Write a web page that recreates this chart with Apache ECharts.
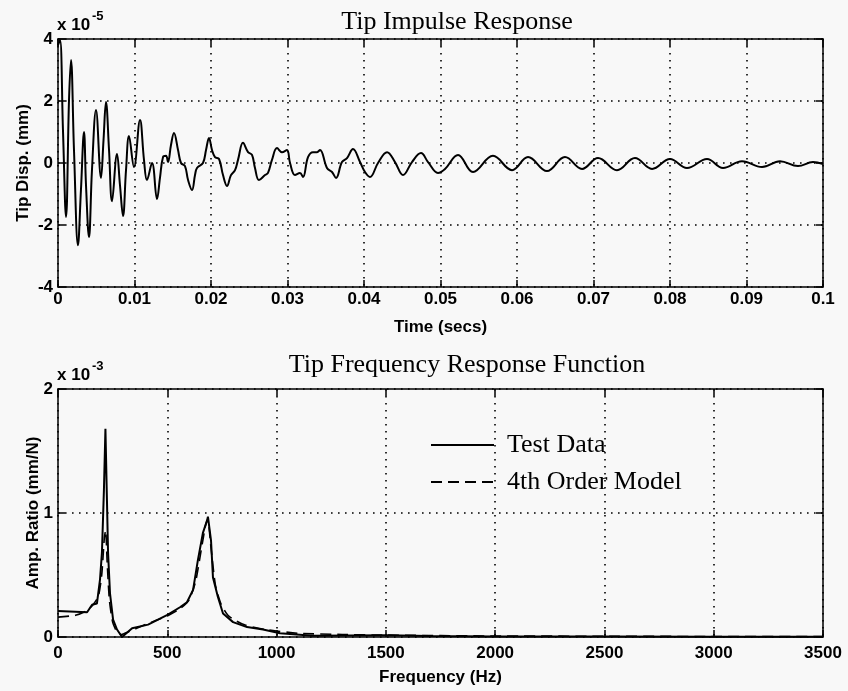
<!DOCTYPE html>
<html>
<head>
<meta charset="utf-8">
<script src="https://cdn.jsdelivr.net/npm/echarts@6/dist/echarts.min.js"></script>
<style>
  html, body { margin: 0; padding: 0; background: #f8f8f8; }
  #chart { width: 848px; height: 691px; }
</style>
</head>
<body>
<div id="chart"></div>
<script>
// impulse response, time in s, displacement in 1e-5 mm
var impTime = [0, 0.00026, 0.00065, 0.00105, 0.00144, 0.0017, 0.00209, 0.00261, 0.003, 0.0034,
  0.00366, 0.00405, 0.00444, 0.00497, 0.00562, 0.00595, 0.00627, 0.00667, 0.00706, 0.00771,
  0.0081, 0.0085, 0.00889, 0.00928, 0.00993, 0.01072, 0.01124, 0.01163, 0.01229, 0.01294,
  0.01333, 0.01373, 0.01412, 0.01438, 0.01477, 0.01516, 0.01569, 0.01608, 0.0166, 0.017,
  0.01752, 0.01791, 0.01817, 0.01895, 0.01935, 0.01974, 0.02013, 0.02052, 0.02105, 0.02157,
  0.02209, 0.02261, 0.02314, 0.02353, 0.02418, 0.02484, 0.02536, 0.02575, 0.02627, 0.02706,
  0.02745, 0.02797, 0.02863, 0.02928, 0.02993, 0.03033, 0.03098, 0.03163, 0.03203, 0.03268,
  0.03333, 0.03386, 0.03425, 0.03516, 0.03582, 0.03634, 0.03712, 0.03778, 0.03856, 0.03948,
  0.04013, 0.04078, 0.04183, 0.04301, 0.04405, 0.0451, 0.04627, 0.04745, 0.04837, 0.04967,
  0.05059, 0.05229, 0.05425, 0.05686, 0.05935, 0.06144, 0.06392, 0.06627, 0.0685, 0.07059,
  0.07307, 0.07542, 0.07765, 0.08, 0.08222, 0.08484, 0.08693, 0.08941, 0.09203, 0.09438,
  0.09673, 0.09869, 0.1];
var impDisp = [3.8, 3.97, 1.06, -1.74, 2.03, 3.32, 0.42, -2.65, -0.87, 1.0,
  -0.71, -2.39, -0.23, 1.71, -0.48, 0.74, 1.97, 0.42, -1.23, 0.29,
  -0.71, -1.71, -0.23, 0.87, -0.13, 1.39, 0.1, -0.55, 0.0, -1.16,
  -0.48, 0.19, 0.23, 0.03, 0.58, 0.97, 0.42, 0.0, -0.1, -0.55,
  -0.87, -0.39, -0.16, 0.0, 0.42, 0.81, 0.42, 0.19, 0.13, -0.39,
  -0.74, -0.39, -0.23, 0.1, 0.65, 0.35, 0.26, -0.16, -0.55, -0.39,
  -0.32, 0.1, 0.48, 0.35, 0.42, 0.0, -0.39, -0.32, -0.45, 0.19,
  0.35, 0.35, 0.42, -0.16, -0.29, -0.48, 0.03, 0.16, 0.45, 0.03,
  -0.29, -0.45, 0.0, 0.35, 0.03, -0.39, 0.03, 0.32, 0.03, -0.32,
  -0.19, 0.26, -0.29, 0.23, -0.23, 0.19, -0.26, 0.19, -0.19, 0.16,
  -0.23, 0.16, -0.19, 0.13, -0.16, 0.13, -0.16, 0.06, -0.13, 0.06,
  -0.1, 0.03, -0.03];

// frequency response, Hz and 1e-3 mm/N
var testFreq = [0, 133, 156, 178, 192, 201, 210, 217, 224, 229, 238, 252, 270, 293, 339, 412,
  503, 558, 590, 618, 640, 663, 682, 686, 700, 709, 732, 755, 801, 865, 938, 1016, 1166,
  1500, 1700, 2000, 2500, 3000, 3500];
var testAmp = [0.21, 0.2, 0.26, 0.27, 0.46, 0.68, 1.18, 1.68, 1.1, 0.68, 0.35, 0.14, 0.06, 0.0, 0.07, 0.1,
  0.18, 0.24, 0.28, 0.38, 0.62, 0.84, 0.94, 0.97, 0.78, 0.48, 0.32, 0.19, 0.12, 0.08, 0.06, 0.03, 0.01,
  0.015, 0.008, 0.005, 0.004, 0.003, 0.003];
var modelFreq = [0, 80, 130, 160, 185, 200, 212, 218, 225, 235, 250, 270, 290, 320, 400, 500,
  560, 600, 630, 655, 675, 685, 700, 720, 745, 780, 850, 950, 1100, 1300, 1500, 2000,
  2500, 3000, 3500];
var modelAmp = [0.16, 0.175, 0.21, 0.26, 0.33, 0.5, 0.8, 0.86, 0.6, 0.3, 0.12, 0.04, 0.02, 0.04, 0.1, 0.17,
  0.23, 0.3, 0.45, 0.7, 0.9, 0.95, 0.72, 0.42, 0.27, 0.17, 0.1, 0.06, 0.03, 0.02, 0.015, 0.008,
  0.006, 0.004, 0.003];

var sans = 'Liberation Sans';
var serif = 'Liberation Serif';

function zip(a, b) {
  var out = [];
  for (var i = 0; i < a.length; i++) out.push([a[i], b[i]]);
  return out;
}

var chart = echarts.init(document.getElementById('chart'), null, { renderer: 'canvas' });

var tickLab = { color: '#000', fontFamily: sans, fontWeight: 'bold', fontSize: 17 };
var frameLine = { show: true, onZero: false, lineStyle: { color: '#000', width: 1.5 } };
var ticksIn = { show: true, inside: true, length: 7, lineStyle: { color: '#000', width: 1.5 } };
var dotted = { show: true, lineStyle: { color: '#000', width: 1.6, type: [1.6, 5.4] } };

// main axis + mirror axis (top/right) with ticks only
function xAxes(grid, min, max, step, fmt, margin, name) {
  return [{
    gridIndex: grid, type: 'value', min: min, max: max, interval: step,
    axisLine: frameLine, axisTick: ticksIn, splitLine: dotted,
    axisLabel: Object.assign({ margin: margin, formatter: fmt }, tickLab),
    name: name, nameLocation: 'middle', nameGap: 32, nameMoveOverlap: false,
    nameTextStyle: { color: '#000', fontFamily: sans, fontWeight: 'bold', fontSize: 17 }
  }, {
    gridIndex: grid, type: 'value', position: 'top', min: min, max: max, interval: step,
    axisLine: frameLine, axisTick: ticksIn, splitLine: { show: false }, axisLabel: { show: false }
  }];
}
function yAxes(grid, min, max, step, name, gap) {
  return [{
    gridIndex: grid, type: 'value', min: min, max: max, interval: step,
    axisLine: frameLine, axisTick: ticksIn, splitLine: dotted,
    axisLabel: Object.assign({ margin: 5 }, tickLab),
    name: name, nameLocation: 'middle', nameGap: gap, nameMoveOverlap: false,
    nameTextStyle: { color: '#000', fontFamily: sans, fontWeight: 'bold', fontSize: 17 }
  }, {
    gridIndex: grid, type: 'value', position: 'right', min: min, max: max, interval: step,
    axisLine: frameLine, axisTick: ticksIn, splitLine: { show: false }, axisLabel: { show: false }
  }];
}

var plain = function (v) { return String(parseFloat(v.toFixed(2))); };
var xa = xAxes(0, 0, 0.1, 0.01, plain, 4, 'Time (secs)')
  .concat(xAxes(1, 0, 3500, 500, plain, 8, 'Frequency (Hz)'));
var ya = yAxes(0, -4, 4, 2, 'Tip Disp. (mm)', 26).concat(yAxes(1, 0, 2, 1, 'Amp. Ratio (mm/N)', 16));

chart.setOption({
  backgroundColor: '#f8f8f8',
  animation: false,
  title: [
    { text: 'Tip Impulse Response', left: 452, top: 4, textAlign: 'center',
      textStyle: { fontFamily: serif, fontWeight: 'normal', fontSize: 26, color: '#000' } },
    { text: 'Tip Frequency Response Function', left: 462, top: 347, textAlign: 'center',
      textStyle: { fontFamily: serif, fontWeight: 'normal', fontSize: 26, color: '#000' } }
  ],
  grid: [
    { left: 58, top: 39, width: 765, height: 248 },
    { left: 58, top: 389, width: 765, height: 248 }
  ],
  legend: {
    orient: 'vertical', left: 425, top: 427, itemWidth: 63, itemHeight: 14, itemGap: 11,
    data: ['Test Data', '4th Order Model'],
    itemStyle: { opacity: 0 },
    textStyle: { fontFamily: serif, fontSize: 26, color: '#000', padding: [0, 0, 0, 8] }
  },
  xAxis: xa,
  yAxis: ya,
  graphic: [
    { type: 'text', x: 57, y: 25, style: { text: 'x 10', fontFamily: sans, fontWeight: 'bold', fontSize: 17, fill: '#000', verticalAlign: 'middle' } },
    { type: 'text', x: 92, y: 16, style: { text: '-5', fontFamily: sans, fontWeight: 'bold', fontSize: 13, fill: '#000', verticalAlign: 'middle' } },
    { type: 'text', x: 57, y: 375, style: { text: 'x 10', fontFamily: sans, fontWeight: 'bold', fontSize: 17, fill: '#000', verticalAlign: 'middle' } },
    { type: 'text', x: 92, y: 366, style: { text: '-3', fontFamily: sans, fontWeight: 'bold', fontSize: 13, fill: '#000', verticalAlign: 'middle' } }
  ],
  series: [
    { name: 'Impulse', type: 'line', xAxisIndex: 0, yAxisIndex: 0, data: zip(impTime, impDisp),
      showSymbol: false, smooth: 0.4, lineStyle: { color: '#000', width: 2 } },
    { name: 'Test Data', type: 'line', xAxisIndex: 2, yAxisIndex: 2, data: zip(testFreq, testAmp),
      showSymbol: false, symbol: 'none', itemStyle: { color: '#000' }, lineStyle: { color: '#000', width: 2 } },
    { name: '4th Order Model', type: 'line', xAxisIndex: 2, yAxisIndex: 2, data: zip(modelFreq, modelAmp),
      showSymbol: false, symbol: 'none', smooth: 0.2, itemStyle: { color: '#000' },
      lineStyle: { color: '#000', width: 1.6, type: [11, 6] } }
  ]
});
</script>
</body>
</html>
